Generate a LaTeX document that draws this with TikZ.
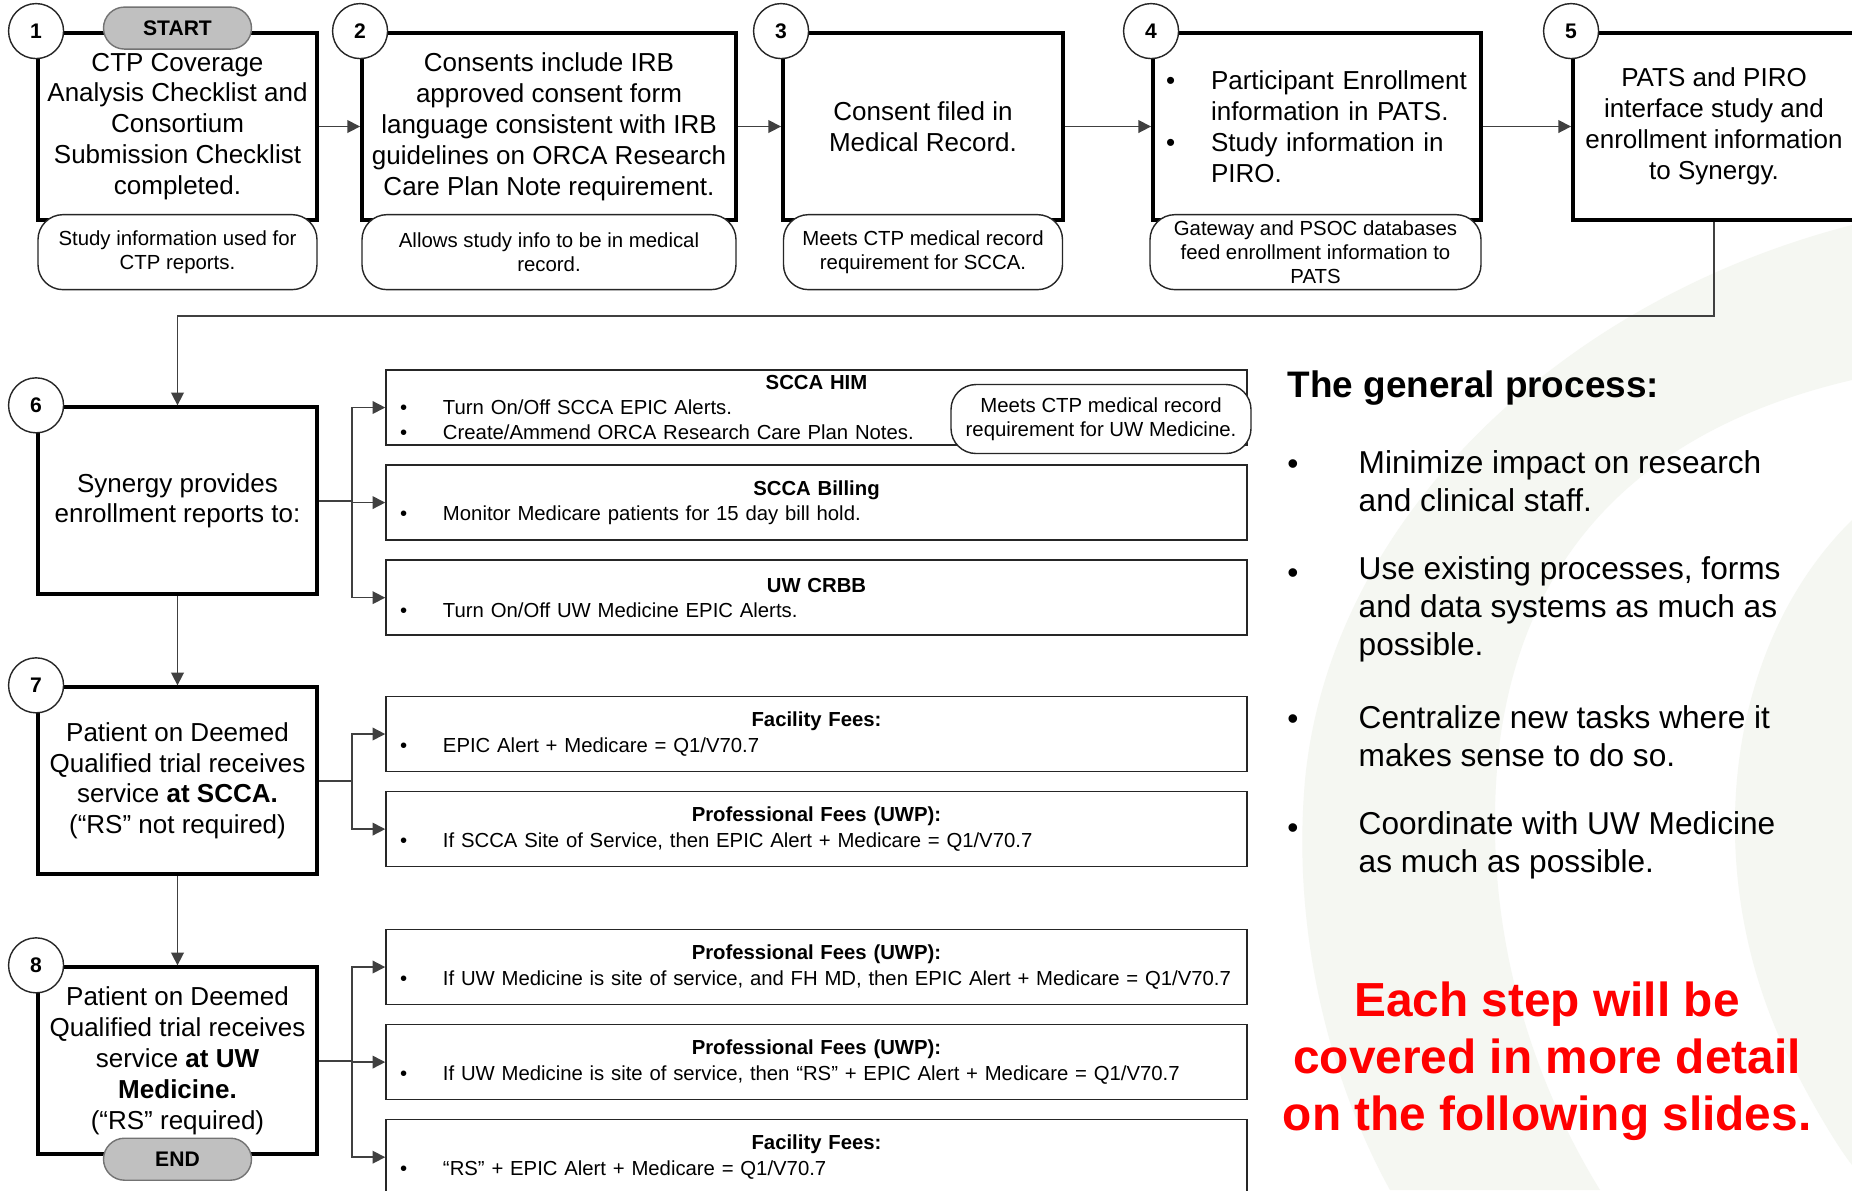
\documentclass[tikz,border=0pt]{standalone}
\usepackage{fontspec}
\setmainfont{Liberation Sans}
\usetikzlibrary{arrows.meta,positioning}
\setlength{\parindent}{0pt}
\definecolor{wmark}{RGB}{245,247,242}
\definecolor{pillgrey}{RGB}{192,192,192}
\newcommand{\bigtxt}{\fontsize{7.4pt}{8.8pt}\selectfont}
\newcommand{\notetxt}{\fontsize{5.8pt}{6.9pt}\selectfont}
\newcommand{\boxtxt}{\fontsize{5.78pt}{7.2pt}\selectfont}
\newcommand{\listtxt}{\fontsize{9pt}{10.8pt}\selectfont}
\newcommand{\headtxt}{\fontsize{10.5pt}{12.6pt}\selectfont\bfseries}
\newcommand{\redtxt}{\fontsize{13.6pt}{16.2pt}\selectfont\bfseries}
% bullet line inside the wide boxes
\newcommand{\bul}[1]{\par\noindent\hspace*{1.4mm}\makebox[4.3mm][l]{\textbullet}#1}
% bullet item inside step 4 (hanging indent, break lines with \newline)
\newcommand{\bitem}[1]{\par\hangindent=5.8mm\hangafter=1\noindent\hspace*{1.3mm}\makebox[4.5mm][l]{\textbullet}#1\par}

\begin{document}
\begin{tikzpicture}[x=0.1mm,y=-0.1mm,% one unit = one pixel of the slide
        stepbox/.style={draw,line width=1.1pt,fill=white,minimum height=18.7mm,inner sep=0pt,align=center,font=\bigtxt},
        note/.style={draw=black!85,line width=0.4pt,fill=white,rounded corners=2.5mm,minimum height=7.5mm,inner sep=0pt,align=center,font=\notetxt},
        infobox/.style={draw=black!85,line width=0.45pt,fill=white,minimum width=86.1mm,text width=86.1mm,minimum height=7.5mm,inner sep=0pt,align=left,font=\boxtxt},
        numcirc/.style={circle,draw=black!85,line width=0.4pt,fill=white,minimum size=5.5mm,inner sep=0pt,font=\fontsize{6pt}{7pt}\selectfont\bfseries},
        pill/.style={draw=black!55,line width=0.4pt,fill=pillgrey,rounded corners=2.1mm,minimum width=14.8mm,minimum height=4.2mm,inner sep=0pt,font=\fontsize{6pt}{7pt}\selectfont\bfseries},
        conn/.style={draw=black!75,line width=0.45pt,-{Triangle[length=3.6pt,width=3.6pt]}},
        listitem/.style={anchor=west,align=left,inner sep=0pt,font=\listtxt}]
\useasboundingbox (0,0) rectangle (1852,1190);
\fill[white] (0,0) rectangle (1852,1190);

% faint swoosh in the background
\fill[wmark] (1852,225) .. controls (1560,300) and (1330,520) .. (1305,780)
   .. controls (1290,950) and (1340,1100) .. (1390,1190) -- (1600,1190)
   .. controls (1520,1060) and (1480,900) .. (1500,740)
   .. controls (1530,520) and (1680,420) .. (1852,380) -- cycle;
\fill[wmark] (1852,520) .. controls (1720,650) and (1700,880) .. (1790,1060)
   .. controls (1815,1110) and (1840,1150) .. (1852,1165) -- cycle;

% the eight steps
\node[stepbox,minimum width=27.9mm] (b1) at (177.5,126.5) {CTP Coverage\\Analysis Checklist and\\Consortium\\Submission Checklist\\completed.};
\node[stepbox,minimum width=37.4mm] (b2) at (549,126.5) {Consents include IRB\\approved consent form\\language consistent with IRB\\guidelines on ORCA Research\\Care Plan Note requirement.};
\node[stepbox,minimum width=28mm] (b3) at (923,126.5) {Consent filed in\\Medical Record.};
\node[stepbox,minimum width=32.8mm,text width=32.8mm,align=left] (b4) at (1317,126.5) {\bitem{Participant Enrollment\newline information in PATS.}\bitem{Study information in\newline PIRO.}\nointerlineskip\noindent\rule{0pt}{3.4pt}};
\node[stepbox,minimum width=28.2mm] (b5) at (1714,126.5) {PATS and PIRO\\interface study and\\enrollment information\\to Synergy.};
\node[stepbox,minimum width=27.9mm] (b6) at (177.5,500.75) {Synergy provides\\enrollment reports to:};
\node[stepbox,minimum width=27.9mm] (b7) at (177.5,780.75) {Patient on Deemed\\Qualified trial receives\\service \textbf{at SCCA.}\\(“RS” not required)};
\node[stepbox,minimum width=27.9mm] (b8) at (177.5,1060.75) {Patient on Deemed\\Qualified trial receives\\service \textbf{at UW}\\\textbf{Medicine.}\\(“RS” required)};

% notes under the top row
\node[note,minimum width=27.9mm,below=-0.8mm of b1] (n1) {Study information used for\\CTP reports.};
\node[note,minimum width=37.4mm,below=-0.8mm of b2] (n2) {Allows study info to be in medical\\record.};
\node[note,minimum width=27.9mm,below=-0.8mm of b3] (n3) {Meets CTP medical record\\requirement for SCCA.};
\node[note,minimum width=33.1mm,below=-0.8mm of b4,xshift=-0.15mm] (n4) {Gateway and PSOC databases\\feed enrollment information to\\PATS};

\node[pill] (start) at ([yshift=0.3mm]b1.north) {START};
\node[pill] (end) at ([yshift=-0.3mm]b8.south) {END};

\foreach[count=\i] \b in {b1,b2,b3,b4,b5,b6,b7,b8}{ %\i is the step number
\node[numcirc] (c\i) at (\b.north west) {\i};
}

% who gets the reports
\node[infobox] (r1) at (816.5,407.5) {{\centering\bfseries SCCA HIM\par}\bul{Turn On/Off SCCA EPIC Alerts.}\bul{Create/Ammend ORCA Research Care Plan Notes.}};
\node[infobox,below=1.85mm of r1] (r2) {{\centering\bfseries SCCA Billing\par}\bul{Monitor Medicare patients for 15 day bill hold.}};
\node[infobox,below=1.85mm of r2] (r3) {{\centering\bfseries UW CRBB\par}\bul{Turn On/Off UW Medicine EPIC Alerts.}};
\node[note,minimum width=30mm,minimum height=6.9mm] (nh) at (1101,419) {Meets CTP medical record\\requirement for UW Medicine.};

\node[infobox] (r4) at (816.5,734) {{\centering\bfseries Facility Fees:\par}\bul{EPIC Alert + Medicare = Q1/V70.7}};
\node[infobox,below=1.85mm of r4] (r5) {{\centering\bfseries Professional Fees (UWP):\par}\bul{If SCCA Site of Service, then EPIC Alert + Medicare = Q1/V70.7}};

\node[infobox] (r6) at (816.5,967) {{\centering\bfseries Professional Fees (UWP):\par}\bul{If UW Medicine is site of service, and FH MD, then EPIC Alert + Medicare = Q1/V70.7}};
\node[infobox,below=1.85mm of r6] (r7) {{\centering\bfseries Professional Fees (UWP):\par}\bul{If UW Medicine is site of service, then “RS” + EPIC Alert + Medicare = Q1/V70.7}};
\node[infobox,below=1.85mm of r7] (r8) {{\centering\bfseries Facility Fees:\par}\bul{“RS” + EPIC Alert + Medicare = Q1/V70.7}};

% connectors
\foreach \a/\b in {b1/b2,b2/b3,b3/b4,b4/b5}
  \draw[conn] (\a) -- (\b);
\draw[conn] (b5.south) -- ++(0,94) -| (b6.north);
\draw[conn] (b6) -- (b7);
\draw[conn] (b7) -- (b8);
\foreach \r in {r1,r2,r3} \draw[conn] (b6.east) -- ++(33,0) |- (\r);
\foreach \r in {r4,r5} \draw[conn] (b7.east) -- ++(33,0) |- (\r);
\foreach \r in {r6,r7,r8} \draw[conn] (b8.east) -- ++(33,0) |- (\r);

% the text on the right
\node[anchor=west,inner sep=0pt,font=\headtxt] (head) at (1287,388) {The general process:};
\foreach[count=\k] \yb/\yy/\txt in {467/481/{Minimize impact on research\\and clinical staff.},%
    576/609/{Use existing processes, forms\\and data systems as much as\\possible.},%
    722/736.5/{Centralize new tasks where it\\makes sense to do so.},%
    831/845/{Coordinate with UW Medicine\\as much as possible.}}{
\node[font=\listtxt,inner sep=0pt] (pb\k) at (1293,\yb) {\textbullet};
\node[listitem] (pi\k) at (1358,\yy) {\txt};
}
\node[align=center,text=red,inner sep=0pt,font=\redtxt] (slides) at (1547,1061) {Each step will be\\covered in more detail\\on the following slides.};
\end{tikzpicture}
\end{document}
